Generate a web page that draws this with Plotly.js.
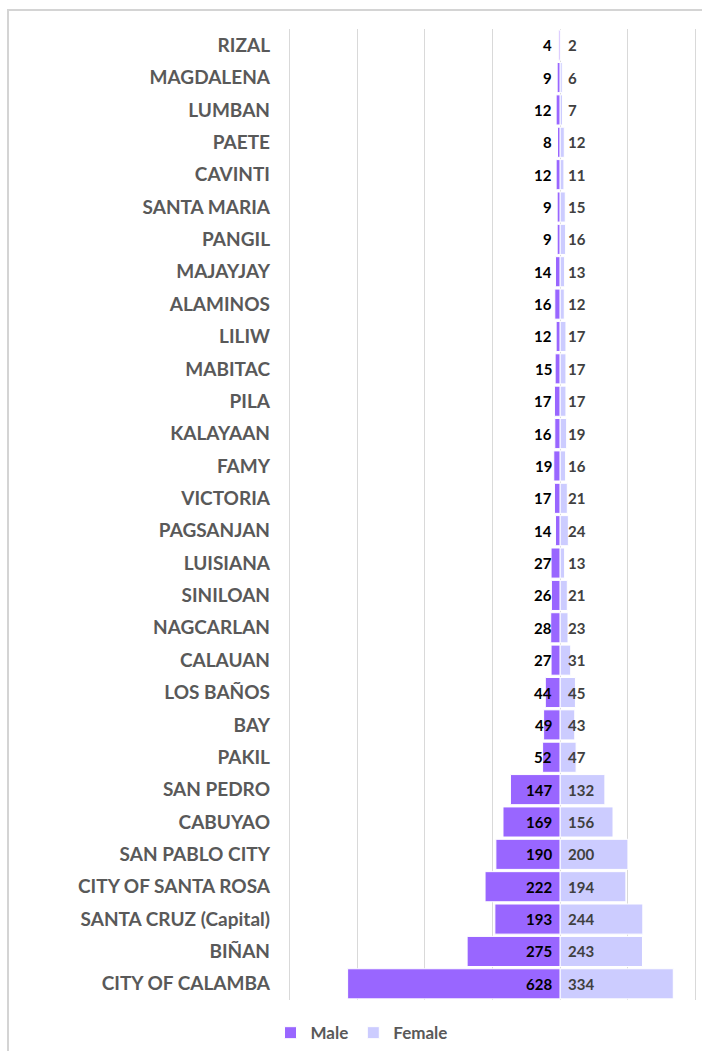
<!DOCTYPE html>
<html>
<head>
<meta charset="utf-8">
<script src="https://cdn.plot.ly/plotly-3.0.1.min.js"></script>
<style>
html,body{margin:0;padding:0;background:#fff;}
#frame{position:absolute;left:7px;top:9px;width:760px;height:1100px;border:2px solid #d4d4d4;box-sizing:border-box;}
#chart{position:absolute;left:0;top:0;width:702px;height:1051px;}
</style>
</head>
<body>
<div id="frame"></div>
<div id="chart"></div>
<script>
const categories = ["RIZAL","MAGDALENA","LUMBAN","PAETE","CAVINTI","SANTA MARIA","PANGIL","MAJAYJAY","ALAMINOS","LILIW","MABITAC","PILA","KALAYAAN","FAMY","VICTORIA","PAGSANJAN","LUISIANA","SINILOAN","NAGCARLAN","CALAUAN","LOS BAÑOS","BAY","PAKIL","SAN PEDRO","CABUYAO","SAN PABLO CITY","CITY OF SANTA ROSA","SANTA CRUZ (Capital)","BIÑAN","CITY OF CALAMBA"];
const male = [4,9,12,8,12,9,9,14,16,12,15,17,16,19,17,14,27,26,28,27,44,49,52,147,169,190,222,193,275,628];
const female = [2,6,7,12,11,15,16,13,12,17,17,17,19,16,21,24,13,21,23,31,45,43,47,132,156,200,194,244,243,334];

const maleNeg = male.map(v => -v);

const traces = [
  {type:'bar', orientation:'h', name:'Male', y:categories, x:maleNeg,
   marker:{color:'#9966FF', line:{color:'#ffffff', width:1}}, hoverinfo:'skip'},
  {type:'bar', orientation:'h', name:'Female', y:categories, x:female,
   marker:{color:'#CCCCFF', line:{color:'#ffffff', width:1}}, hoverinfo:'skip'}
];

const annotations = [];
categories.forEach((c, i) => {
  annotations.push({x:0, y:c, xref:'x', yref:'y', text:String(male[i]), showarrow:false,
    xanchor:'right', yanchor:'middle', xshift:-6,
    font:{family:'Lato', size:15, color:'#000000', weight:'bold'}});
  annotations.push({x:0, y:c, xref:'x', yref:'y', text:String(female[i]), showarrow:false,
    xanchor:'left', yanchor:'middle', xshift:6,
    font:{family:'Lato', size:15, color:'#404040', weight:'bold'}});
});

const layout = {
  width:702, height:1051,
  margin:{l:286, r:3, t:29, b:51},
  paper_bgcolor:'rgba(0,0,0,0)', plot_bgcolor:'rgba(0,0,0,0)',
  barmode:'overlay', bargap:0.07,
  font:{family:'Lato', color:'#595959'},
  xaxis:{range:[-810,410], dtick:200, tick0:0, showticklabels:false, showgrid:true,
         gridcolor:'#d9d9d9', gridwidth:1, zeroline:false, showline:false, fixedrange:true},
  yaxis:{type:'category', range:[29.5,-0.5], autorange:false, showgrid:false, zeroline:false, showline:false,
         ticks:'', ticklabelstandoff:15,
         tickfont:{family:'Lato', size:19, color:'#595959', weight:'bold'}},
  annotations:annotations,
  showlegend:true,
  legend:{orientation:'h', xref:'container', yref:'container', x:0.515, y:0.017,
          xanchor:'center', yanchor:'middle', itemwidth:30,
          font:{family:'Lato', size:17, color:'#595959', weight:'bold'},
          traceorder:'normal'}
};

Plotly.newPlot('chart', traces, layout, {displayModeBar:false, staticPlot:true});
</script>
</body>
</html>
